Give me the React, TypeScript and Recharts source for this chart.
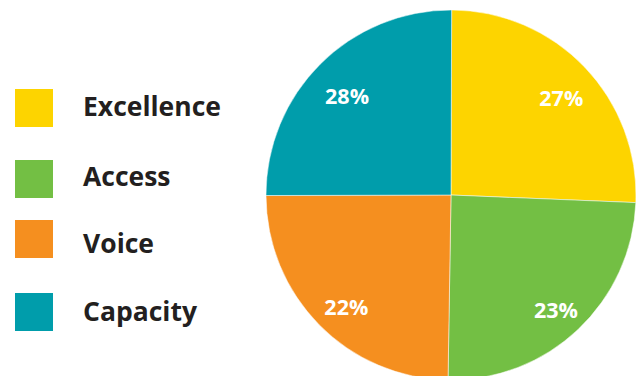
import React from "react";
import { PieChart, Pie, Cell, Legend } from "recharts";

const categories = ["Excellence", "Access", "Voice", "Capacity"];
// slice sizes as drawn in the picture (share of the circle, %)
const sliceValues = [25.6, 24.6, 24.7, 25.1];
// percentage labels printed on the slices
const sliceLabels = ["27%", "23%", "22%", "28%"];
const colors = ["#FDD400", "#73BF44", "#F58F1F", "#009DAB"];

const legendBoxTops = [89, 160, 220, 293];
const legendTextCenters = [106, 176, 243, 311];

const data = categories.map((name, i) => ({ name, value: sliceValues[i], label: sliceLabels[i] }));

const RAD = Math.PI / 180;

const renderLabel = (props: any) => {
  const { cx, cy, midAngle, outerRadius, index } = props;
  const r = outerRadius * 0.81;
  const x = cx + 2 + r * Math.cos(-midAngle * RAD);
  const y = cy + 6 + r * Math.sin(-midAngle * RAD);
  return (
    <text
      x={x}
      y={y}
      fill="#ffffff"
      textAnchor="middle"
      dominantBaseline="central"
      fontFamily="'Open Sans', sans-serif"
      fontWeight={700}
      fontSize={21.5}
    >
      {sliceLabels[index]}
    </text>
  );
};

const LegendContent = () => (
  <div style={{ position: "relative", width: 240, height: 376 }}>
    {categories.map((c, i) => (
      <React.Fragment key={c}>
        <div
          style={{
            position: "absolute",
            left: 15,
            top: legendBoxTops[i],
            width: 38,
            height: 38,
            background: colors[i],
          }}
        />
        <div
          style={{
            position: "absolute",
            left: 83,
            top: legendTextCenters[i] - 20,
            height: 40,
            lineHeight: "40px",
            fontFamily: "'Open Sans', sans-serif",
            fontWeight: 700,
            fontSize: 26.5,
            color: "#231F20",
            whiteSpace: "nowrap",
          }}
        >
          {c}
        </div>
      </React.Fragment>
    ))}
  </div>
);

export default function App() {
  return (
    <div style={{ position: "absolute", left: 0, top: 0, background: "#ffffff" }}>
      <PieChart width={641} height={376} margin={{ top: 0, right: 0, bottom: 0, left: 0 }}>
        <Pie
          data={data}
          dataKey="value"
          nameKey="name"
          cx={451}
          cy={195}
          outerRadius={185}
          startAngle={89.8}
          endAngle={-270.2}
          stroke="rgba(255,255,255,0.5)"
          strokeWidth={1}
          label={renderLabel}
          labelLine={false}
          isAnimationActive={false}
        >
          {data.map((d, i) => (
            <Cell key={d.name} fill={colors[i]} />
          ))}
        </Pie>
        <Legend
          content={<LegendContent />}
          wrapperStyle={{ position: "absolute", left: 0, top: 0, width: 240, height: 376 }}
        />
      </PieChart>
    </div>
  );
}
